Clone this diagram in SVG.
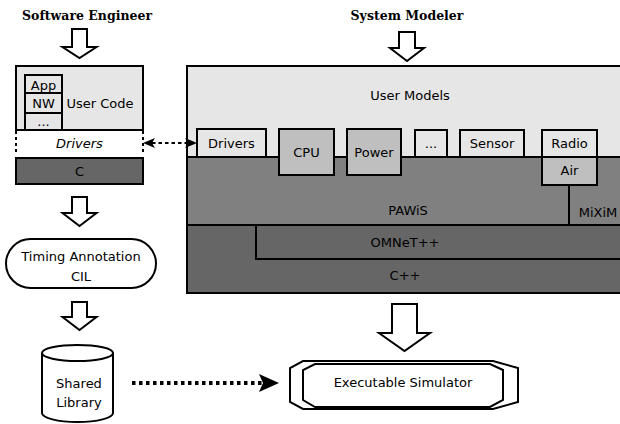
<svg xmlns="http://www.w3.org/2000/svg" width="620" height="424" viewBox="0 0 620 424">
<defs>
<style>
.t{font-family:"DejaVu Sans","Liberation Sans",sans-serif;font-size:13px;fill:#000;text-anchor:middle}
.h{font-family:"DejaVu Serif","Liberation Serif",serif;font-size:12.5px;font-weight:bold;fill:#000;text-anchor:middle}
.b{stroke:#000;stroke-width:2}
.lg{fill:#e6e6e6}
.mg{fill:#808080}
.dg{fill:#666666}
.bx{fill:#bfbfbf}
.wh{fill:#fff}
.blk{fill:#fff;stroke:#000;stroke-width:2;stroke-linejoin:miter}
</style>
<marker id="st" viewBox="0 0 12 10" refX="3" refY="5" markerWidth="12" markerHeight="10" markerUnits="userSpaceOnUse" orient="auto-start-reverse">
<path d="M0,0 L12,5 L0,10 L3,5 z" fill="#000"/>
</marker>
<marker id="stb" viewBox="0 0 20 18" refX="4" refY="9" markerWidth="20" markerHeight="18" markerUnits="userSpaceOnUse" orient="auto">
<path d="M0,0 L20,9 L0,18 L4,9 z" fill="#000"/>
</marker>
</defs>
<rect width="620" height="424" fill="#fff"/>

<g id="label-software-engineer"><text class="h" x="87" y="20">Software Engineer</text></g>
<g id="label-system-modeler"><text class="h" x="407" y="20">System Modeler</text></g>

<g id="user-code">
<rect class="lg b" x="16" y="66" width="127" height="64"/>
<text class="t" x="100" y="108">User Code</text>
</g>
<g id="app"><rect class="lg b" x="25" y="75" width="37" height="18"/><text class="t" x="43.5" y="90">App</text></g>
<g id="nw"><rect class="lg b" x="25" y="93" width="37" height="20"/><text class="t" x="43.5" y="108">NW</text></g>
<g id="more-left"><rect class="lg b" x="25" y="113" width="37" height="17"/><text class="t" x="43.5" y="126">...</text></g>
<g id="drivers-left">
<rect class="wh" x="16" y="131" width="127" height="23"/>
<line x1="16" y1="131" x2="16" y2="155" stroke="#000" stroke-width="2" stroke-dasharray="3 3"/>
<line x1="143" y1="131" x2="143" y2="155" stroke="#000" stroke-width="2" stroke-dasharray="3 3"/>
<text class="t" x="79.5" y="148" font-style="italic">Drivers</text>
</g>
<g id="c"><rect class="dg b" x="16" y="158" width="127" height="26"/><text class="t" x="79.5" y="176">C</text></g>

<g id="timing-annotation">
<rect class="wh b" x="6" y="239" width="150" height="49" rx="24.5" ry="24.5"/>
<text class="t" x="81" y="261">Timing Annotation</text>
<text class="t" x="81" y="281">CIL</text>
</g>

<g id="shared-library">
<path class="wh b" d="M42,353 L42,413 A35.5,9 0 0 0 113,413 L113,353"/>
<ellipse class="wh b" cx="77.5" cy="353" rx="35.5" ry="8"/>
<text class="t" x="79" y="388">Shared</text>
<text class="t" x="79" y="407">Library</text>
</g>

<g id="user-models">
<rect class="lg b" x="187" y="66" width="440" height="227"/>
<text class="t" x="410" y="100">User Models</text>
</g>
<g id="pawis">
<rect class="mg b" x="187" y="157" width="440" height="68"/>
<text class="t" x="408" y="215">PAWiS</text>
</g>
<g id="mixim">
<line x1="569" y1="185" x2="569" y2="225" stroke="#000" stroke-width="2"/>
<text class="t" x="598" y="217">MiXiM</text>
</g>
<g id="cpp">
<rect class="dg b" x="187" y="225" width="440" height="68"/>
<text class="t" x="405" y="280">C++</text>
</g>
<g id="omnet">
<rect class="dg b" x="256" y="225" width="371" height="34"/>
<text class="t" x="405" y="247">OMNeT++</text>
</g>
<g id="drivers"><rect class="lg b" x="197" y="129" width="69" height="28"/><text class="t" x="231.5" y="148">Drivers</text></g>
<g id="cpu"><rect class="bx b" x="279" y="129" width="55" height="46"/><text class="t" x="306.5" y="157">CPU</text></g>
<g id="power"><rect class="bx b" x="347" y="129" width="54" height="46"/><text class="t" x="374" y="157">Power</text></g>
<g id="more"><rect class="lg b" x="415" y="130" width="32" height="27"/><text class="t" x="431" y="148">...</text></g>
<g id="sensor"><rect class="lg b" x="460" y="130" width="64" height="27"/><text class="t" x="492" y="148">Sensor</text></g>
<g id="radio"><rect class="lg b" x="542" y="130" width="55" height="27"/><text class="t" x="569.5" y="148">Radio</text></g>
<g id="air"><rect class="bx b" x="542" y="157" width="55" height="28"/><text class="t" x="569.5" y="175">Air</text></g>

<g id="executable-simulator">
<polygon class="wh b" points="303,361 493,361 518,368 518,402 493,409 303,409 290,402 290,368"/>
<polygon fill="none" class="b" points="315,364 490,364 503,370 503,400 490,407 315,407 303,400 303,370"/>
<text class="t" x="403" y="387">Executable Simulator</text>
</g>

<g id="connectors">
<polygon class="blk" points="72,29 87,29 87,47 96.5,47 79.5,58 62.5,47 72,47"/>
<polygon class="blk" points="72,197 87,197 87,213 96.5,213 79.5,226 62.5,213 72,213"/>
<polygon class="blk" points="72,302 87,302 87,317 96.5,317 79.5,330 62.5,317 72,317"/>
<polygon class="blk" points="399,32 415,32 415,48 424,48 407,61 390,48 399,48"/>
<polygon class="blk" points="392,304 417,304 417,333 430,333 404.5,351 379,333 392,333"/>
<line x1="152" y1="143" x2="188" y2="143" stroke="#000" stroke-width="2" stroke-dasharray="3.5 3" marker-start="url(#st)" marker-end="url(#st)"/>
<line x1="132" y1="383" x2="263" y2="383" stroke="#000" stroke-width="4" stroke-dasharray="3.5 3.5" marker-end="url(#stb)"/>
</g>
</svg>
